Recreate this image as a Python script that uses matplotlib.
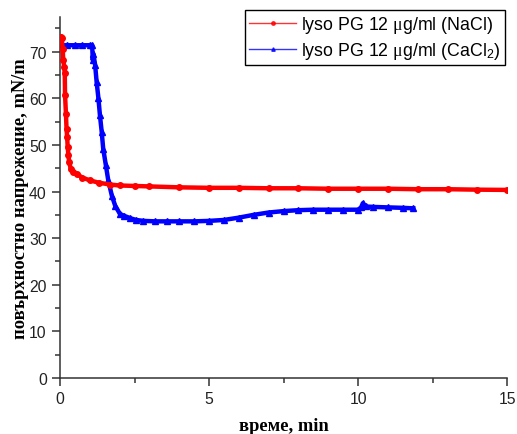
import matplotlib.pyplot as plt
from matplotlib.lines import Line2D
from matplotlib.ticker import MultipleLocator

# lyso PG 12 ug/ml in NaCl
t_nacl = [0, 0.03, 0.06, 0.09, 0.11, 0.14, 0.16, 0.17, 0.20, 0.22, 0.24, 0.26, 0.28,
          0.31, 0.36, 0.45, 0.56, 0.75, 1.0, 1.3, 1.68, 2.0, 2.5, 3.0, 4.0, 5.0,
          6.0, 7.0, 8.0, 9.0, 10.0, 11.0, 12.0, 13.0, 14.0, 15.0]
v_nacl = [73.2, 73.1, 73.0, 70.5, 68.3, 66.8, 65.5, 60.8, 56.7, 53.5, 51.7, 49.5, 47.9,
          46.3, 44.9, 44.2, 43.8, 43.0, 42.4, 41.9, 41.5, 41.3, 41.2, 41.1, 40.9, 40.8,
          40.8, 40.7, 40.7, 40.6, 40.6, 40.6, 40.5, 40.5, 40.4, 40.35]

# lyso PG 12 ug/ml in CaCl2
t_cacl = [0, 0.25, 0.5, 0.75, 1.0, 1.08, 1.10, 1.12, 1.18, 1.23, 1.29, 1.34, 1.40,
          1.45, 1.54, 1.62, 1.74, 1.85, 2.01, 2.15, 2.35, 2.55, 2.8, 3.2, 3.6, 4.0,
          4.5, 5.0, 5.5, 6.0, 6.5, 7.0, 7.5, 8.0, 8.5, 9.0, 9.5, 10.0, 10.1, 10.16,
          10.25, 10.5, 11.0, 11.5, 11.85]
v_cacl = [71.4, 71.4, 71.4, 71.4, 71.4, 71.4, 68.2, 69.6, 67.1, 63.5, 60.0, 56.4, 52.8,
          49.2, 45.6, 42.4, 39.1, 37.0, 35.2, 34.8, 34.3, 33.9, 33.7, 33.6, 33.6, 33.6,
          33.6, 33.7, 33.9, 34.4, 35.0, 35.5, 35.8, 36.0, 36.1, 36.1, 36.1, 36.1, 36.6, 37.5,
          36.8, 36.7, 36.6, 36.5, 36.4]

label_nacl = r'lyso PG 12 $\mu$g/ml (NaCl)'
label_cacl = r'lyso PG 12 $\mu$g/ml (CaCl$_2$)'

plt.rcParams['font.family'] = 'Liberation Sans'
plt.rcParams['mathtext.fontset'] = 'custom'
plt.rcParams['mathtext.rm'] = 'Liberation Sans'
plt.rcParams['mathtext.it'] = 'Liberation Serif'

fig = plt.figure(figsize=(5.17, 4.35), dpi=100)
ax = fig.add_axes([0.116, 0.129, 0.865, 0.83])

ax.plot(t_nacl, v_nacl, color='red', lw=3.2, marker='o', ms=4, zorder=3)
ax.plot(t_cacl, v_cacl, color='blue', lw=3.2, marker='^', ms=4.5, zorder=2)

ax.set_xlim(0, 15)
ax.set_ylim(0, 77.5)
ax.xaxis.set_major_locator(MultipleLocator(5))
ax.xaxis.set_minor_locator(MultipleLocator(2.5))
ax.yaxis.set_major_locator(MultipleLocator(10))
ax.yaxis.set_minor_locator(MultipleLocator(5))
ax.tick_params(which='major', direction='out', length=6, width=1.1, labelsize=11.3,
               color='#333333', labelcolor='#222222')
ax.tick_params(which='minor', direction='out', length=3.5, width=1.1, color='#333333')
for s in ['top', 'right']:
    ax.spines[s].set_visible(False)
for s in ['left', 'bottom']:
    ax.spines[s].set_linewidth(1.1)
    ax.spines[s].set_color('#333333')

ax.set_xlabel('време, min', family='Liberation Serif', fontweight='bold', fontsize=13.3, labelpad=8)
ax.set_ylabel('повърхностно напрежение, mN/m', family='Liberation Serif', fontweight='bold',
              fontsize=13.3, labelpad=0)

handles = [Line2D([], [], color='red', lw=1, marker='o', ms=2.5, alpha=0.8),
           Line2D([], [], color='blue', lw=1, marker='^', ms=2.5, alpha=0.8)]
leg = ax.legend(handles, [label_nacl, label_cacl], loc='upper right',
                bbox_to_anchor=(505 / 517, 1 - 11 / 435), bbox_transform=fig.transFigure,
                borderaxespad=0, fancybox=False, edgecolor='black', fontsize=12.8,
                handlelength=2.6, handletextpad=0.3, borderpad=0.25, labelspacing=0.25,
                framealpha=1)
leg.get_frame().set_linewidth(1)

fig.savefig('out.png', dpi=100)
